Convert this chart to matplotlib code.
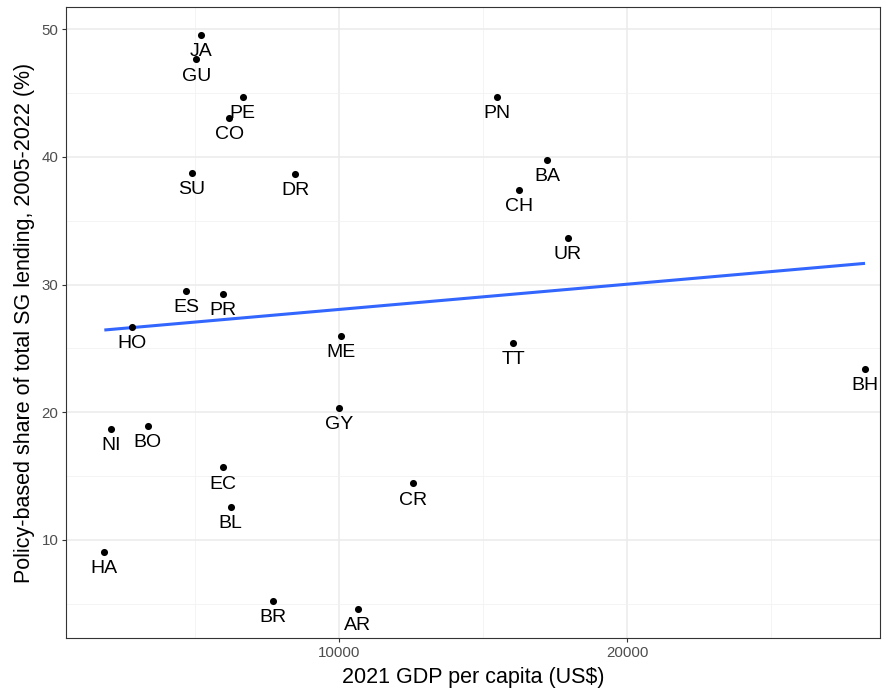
import numpy as np
import matplotlib
matplotlib.use("Agg")
import matplotlib.pyplot as plt
from matplotlib.ticker import MultipleLocator

plt.rcParams['font.family'] = ['Liberation Sans', 'DejaVu Sans']

countries = ["JA", "GU", "PE", "CO", "SU", "DR", "ES", "PR", "HO", "NI", "BO",
             "EC", "BL", "HA", "BR", "AR", "CR", "ME", "GY", "TT", "PN", "BA",
             "CH", "UR", "BH"]
gdp_pc = [5198, 5045, 6656, 6191, 4885, 8483, 4688, 5972, 2802, 2094, 3357,
          5972, 6240, 1851, 7719, 10649, 12559, 10059, 10010, 16042, 15497, 17233,
          16250, 17940, 28264]
pbl_share = [49.55, 47.65, 44.72, 43.05, 38.76, 38.64, 29.49, 29.26, 26.69, 18.70, 18.89,
             15.67, 12.59, 9.04, 5.20, 4.55, 14.42, 25.99, 20.34, 25.44, 44.69, 39.78,
             37.43, 33.67, 23.40]

x = np.array(gdp_pc, dtype=float)
y = np.array(pbl_share, dtype=float)

fig = plt.figure(figsize=(8.91, 6.89), dpi=100)
ax = fig.add_axes([0.0741, 0.0740, 0.9136, 0.9158])

# Linear fit over the observed GDP range
slope, intercept = np.polyfit(x, y, 1)
xs = np.linspace(x.min(), x.max(), 100)
ax.plot(xs, intercept + slope * xs, color="#3366FF", lw=2.2, zorder=3,
        solid_capstyle="butt")

ax.scatter(x, y, s=26, color="black", zorder=4, linewidths=0)
for name, xi, yi in zip(countries, x, y):
    ax.annotate(name, (xi, yi), xytext=(0, -12), textcoords="offset points",
                ha="center", va="center", fontsize=14, color="black", zorder=5)

ax.set_xlim(521, 28785)
ax.set_ylim(2.3, 51.75)
ax.set_xticks([10000, 20000])
ax.xaxis.set_minor_locator(MultipleLocator(5000))
ax.yaxis.set_major_locator(MultipleLocator(10))
ax.yaxis.set_minor_locator(MultipleLocator(5))

ax.grid(which="major", color="#EBEBEB", lw=1.1)
ax.grid(which="minor", color="#F2F2F2", lw=0.6)
ax.set_axisbelow(True)
ax.tick_params(which="minor", length=0)
ax.tick_params(which="major", length=3, width=0.8, color="#333333",
               labelsize=10.8, labelcolor="#4D4D4D", pad=2.5)
for sp in ax.spines.values():
    sp.set_color("#333333")
    sp.set_linewidth(0.8)

ax.set_xlabel("2021 GDP per capita (US$)", fontsize=15.5, labelpad=5)
ax.set_ylabel("Policy-based share of total SG lending, 2005-2022 (%)",
              fontsize=15.5, labelpad=5)

fig.savefig("out.png", dpi=100)
